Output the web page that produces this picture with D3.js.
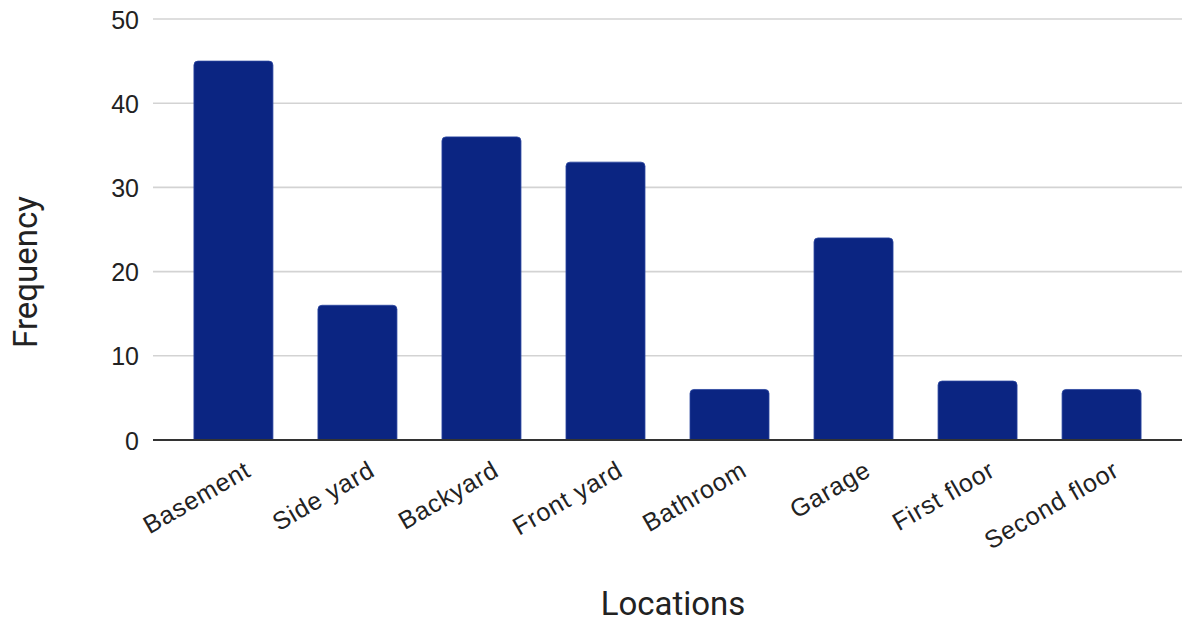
<!DOCTYPE html>
<html>
<head>
<meta charset="utf-8">
<script src="https://cdn.jsdelivr.net/npm/d3@7"></script>
<style>
  html, body { margin: 0; padding: 0; background: #fff; }
  svg { display: block; }
</style>
</head>
<body>
<svg id="chart" width="1182" height="622"></svg>
<script>
// Where the items were found, and how often
const locations = ["Basement", "Side yard", "Backyard", "Front yard", "Bathroom", "Garage", "First floor", "Second floor"];
const frequency = [45, 16, 36, 33, 6, 24, 7, 6];
const yTicks = [0, 10, 20, 30, 40, 50];

const W = 1182, H = 622;
const plot = { left: 153, right: 1182, top: 19, bottom: 440 };

const svg = d3.select("#chart");

const x = d3.scaleBand()
  .domain(locations)
  .range([plot.left, plot.right])
  .paddingInner(0.363)
  .paddingOuter(0.33);

const y = d3.scaleLinear()
  .domain([0, 50])
  .range([plot.bottom, plot.top]);

// Horizontal gridlines
svg.append("g")
  .selectAll("line")
  .data(yTicks.filter(t => t !== 0))
  .join("line")
  .attr("x1", plot.left)
  .attr("x2", plot.right)
  .attr("y1", d => y(d))
  .attr("y2", d => y(d))
  .attr("stroke", "#d3d3d3")
  .attr("stroke-width", 1.6);

// Y axis labels
const yAxis = d3.axisLeft(y).tickValues(yTicks).tickSize(0).tickPadding(0);
const gy = svg.append("g")
  .attr("transform", `translate(139,0)`)
  .call(yAxis);
gy.select(".domain").remove();
gy.selectAll("text")
  .attr("font-family", "'Liberation Sans', Arial, sans-serif")
  .attr("font-size", 25)
  .attr("fill", "#222")
  .attr("dy", "0.36em");

// Bars with rounded top corners
const r = 4;
function barPath(d, i) {
  const x0 = x(locations[i]);
  const w = x.bandwidth();
  const y0 = y(d);
  const yb = y(0);
  return `M${x0},${yb}V${y0 + r}Q${x0},${y0} ${x0 + r},${y0}H${x0 + w - r}Q${x0 + w},${y0} ${x0 + w},${y0 + r}V${yb}Z`;
}
svg.append("g")
  .selectAll("path")
  .data(frequency)
  .join("path")
  .attr("d", (d, i) => barPath(d, i))
  .attr("fill", "#0b2582")
  .attr("stroke", "#2a45a0")
  .attr("stroke-width", 0.8);

// Baseline
svg.append("line")
  .attr("x1", plot.left)
  .attr("x2", plot.right)
  .attr("y1", y(0))
  .attr("y2", y(0))
  .attr("stroke", "#333")
  .attr("stroke-width", 1.8);

// X axis labels, slanted
const xAxis = d3.axisBottom(x).tickSize(0).tickPadding(0);
const gx = svg.append("g")
  .attr("transform", `translate(0,${y(0)})`)
  .call(xAxis);
gx.select(".domain").remove();
gx.selectAll(".tick text")
  .attr("font-family", "'Liberation Sans', Arial, sans-serif")
  .attr("font-size", 25)
  .attr("letter-spacing", "0.8px")
  .attr("fill", "#222")
  .attr("text-anchor", "end")
  .attr("y", 0)
  .attr("dy", 0)
  .attr("transform", "translate(19,35) rotate(-30)");

// Axis titles
svg.append("text")
  .attr("x", 673)
  .attr("y", 615)
  .attr("text-anchor", "middle")
  .attr("font-family", "Roboto, Arial, sans-serif")
  .attr("font-size", 33)
  .attr("fill", "#222")
  .text("Locations");

svg.append("text")
  .attr("transform", `translate(37,272) rotate(-90)`)
  .attr("text-anchor", "middle")
  .attr("font-family", "Roboto, Arial, sans-serif")
  .attr("font-size", 33)
  .attr("fill", "#222")
  .text("Frequency");
</script>
</body>
</html>
